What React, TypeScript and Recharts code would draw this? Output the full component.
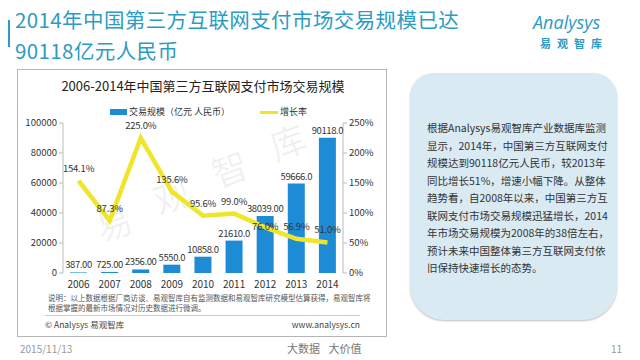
import { ComposedChart, Bar, Line, XAxis, YAxis, LabelList } from "recharts";

const years = ["2006", "2007", "2008", "2009", "2010", "2011", "2012", "2013", "2014"];
const volume = [387, 725, 2356, 5550, 10858, 21610, 38039, 59666, 90118];
const volumeLabels = ["387.00", "725.00", "2356.00", "5550.0", "10858.0", "21610.0", "38039.00", "59666.0", "90118.0"];
const growth = [154.1, 87.3, 225.0, 135.6, 95.6, 99.0, 76.0, 56.9, 51.0];
const leftTicks = [0, 20000, 40000, 60000, 80000, 100000];
const rightTicks = [0, 50, 100, 150, 200, 250];

const noteLines = [
  "根据Analysys易观智库产业数据库监测",
  "显示，2014年，中国第三方互联网支付",
  "规模达到90118亿元人民币，较2013年",
  "同比增长51%，增速小幅下降。从整体",
  "趋势看，自2008年以来，中国第三方互",
  "联网支付市场交易规模迅猛增长，2014",
  "年市场交易规模为2008年的38倍左右，",
  "预计未来中国整体第三方互联网支付依",
  "旧保持快速增长的态势。",
];

const data = years.map((year, i) => ({
  year,
  volume: volume[i],
  volumeLabel: volumeLabels[i],
  growth: growth[i],
}));

const FONT = '"Noto Sans CJK SC", "Noto Sans", sans-serif';
const TEAL = "#2b9cc3";
const BLUE = "#1e8cd5";
const YELLOW = "#efe52c";

// growth labels sit above the point, except 2012 which sits on the line (clear of the bar label)
const renderGrowthLabel = (props: any) => {
  const { x, y, value, index } = props;
  const dy = index === 6 ? 3 : -9;
  return (
    <text x={x} y={y + dy} textAnchor="middle" style={{ fontSize: 9.5, letterSpacing: -0.2, fill: "#333", fontFamily: FONT }}>
      {`${Number(value).toFixed(1)}%`}
    </text>
  );
};

export default function App() {
  return (
    <div
      style={{
        position: "absolute",
        left: 0,
        top: 0,
        width: 640,
        height: 360,
        background: "#fff",
        overflow: "hidden",
        fontFamily: FONT,
      }}
    >
      {/* page title */}
      <div style={{ position: "absolute", left: 8, top: 20, width: 2, height: 27, background: TEAL }} />
      <div style={{ position: "absolute", left: 15, top: 7, fontSize: 20.5, letterSpacing: 0.4, lineHeight: "24px", color: TEAL, whiteSpace: "nowrap" }}>
        2014年中国第三方互联网支付市场交易规模已达
      </div>
      <div style={{ position: "absolute", left: 15, top: 38, fontSize: 20.5, letterSpacing: 0.4, lineHeight: "24px", color: TEAL, whiteSpace: "nowrap" }}>
        90118亿元人民币
      </div>

      {/* logo */}
      <div style={{ position: "absolute", left: 533, top: 10, color: TEAL, fontStyle: "italic", fontSize: 18, fontFamily: '"Open Sans", sans-serif' }}>
        Analysys
      </div>
      <div style={{ position: "absolute", left: 540, top: 35, color: TEAL, fontWeight: 700, fontSize: 11, letterSpacing: 6 }}>
        易观智库
      </div>

      {/* chart box */}
      <div
        style={{
          position: "absolute",
          left: 17,
          top: 69,
          width: 368,
          height: 266,
          border: "1px solid #b5b5b5",
        }}
      />
      <div style={{ position: "absolute", left: 17, width: 372, top: 76, textAlign: "center", fontSize: 13, color: "#222" }}>
        2006-2014年中国第三方互联网支付市场交易规模
      </div>

      {/* watermark */}
      {["易", "观", "智", "库"].map((ch, i) => (
        <div
          key={ch}
          style={{
            position: "absolute",
            left: 95 + i * 58,
            top: 195 - i * 27,
            fontSize: 36,
            color: "rgba(0,0,0,0.06)",
            transform: "rotate(-20deg)",
          }}
        >
          {ch}
        </div>
      ))}

      {/* legend */}
      <div style={{ position: "absolute", left: 110, top: 109, width: 17, height: 6, background: BLUE }} />
      <div style={{ position: "absolute", left: 129, top: 105, fontSize: 9, color: "#333" }}>交易规模（亿元 人民币）</div>
      <div style={{ position: "absolute", left: 260, top: 111, width: 18, height: 3, background: YELLOW }} />
      <div style={{ position: "absolute", left: 280, top: 105, fontSize: 9, color: "#333" }}>增长率</div>

      <div style={{ position: "absolute", left: 17, top: 95 }}>
        <ComposedChart width={369} height={200} data={data} margin={{ top: 28, right: 0, left: 0, bottom: 2 }}>
          <XAxis
            dataKey="year"
            axisLine={false}
            tickLine={false}
            height={20}
            tick={{ fontSize: 10, fill: "#333", fontFamily: FONT }}
          />
          <YAxis
            yAxisId="left"
            width={46}
            domain={[0, 100000]}
            ticks={leftTicks}
            axisLine={{ stroke: "#bbb" }}
            tickLine={{ stroke: "#bbb" }}
            tickSize={4}
            tick={{ fontSize: 9.5, fill: "#333", fontFamily: FONT }}
          />
          <YAxis
            yAxisId="right"
            orientation="right"
            width={43}
            domain={[0, 250]}
            ticks={rightTicks}
            tickFormatter={(v: number) => `${v}%`}
            axisLine={{ stroke: "#bbb" }}
            tickLine={{ stroke: "#bbb" }}
            tickSize={4}
            tick={{ fontSize: 9.5, fill: "#333", fontFamily: FONT }}
          />
          <Bar yAxisId="left" dataKey="volume" fill={BLUE} barSize={17} isAnimationActive={false}>
            <LabelList
              dataKey="volumeLabel"
              position="top"
              offset={4}
              style={{ fontSize: 9.5, letterSpacing: -0.4, fill: "#333", fontFamily: FONT }}
            />
          </Bar>
          <Line
            yAxisId="right"
            type="linear"
            dataKey="growth"
            stroke={YELLOW}
            strokeWidth={4.5}
            dot={false}
            isAnimationActive={false}
          >
            <LabelList dataKey="growth" content={renderGrowthLabel} />
          </Line>
        </ComposedChart>
      </div>

      {/* source note */}
      <div style={{ position: "absolute", left: 48, top: 293, fontSize: 7.5, lineHeight: "10px", color: "#555", whiteSpace: "nowrap" }}>
        <div>说明：以上数据根据厂商访谈、易观智库自有监测数据和易观智库研究模型估算获得，易观智库将</div>
        <div>根据掌握的最新市场情况对历史数据进行微调。</div>
      </div>
      <div style={{ position: "absolute", left: 45, top: 315, width: 315, height: 1, background: "#ccc" }} />
      <div style={{ position: "absolute", left: 45, top: 318, fontSize: 8.5, color: "#444" }}>© Analysys 易观智库</div>
      <div style={{ position: "absolute", left: 260, width: 100, textAlign: "right", top: 318, fontSize: 8.5, color: "#444" }}>
        www.analysys.cn
      </div>

      {/* text panel */}
      <div
        style={{
          position: "absolute",
          left: 410,
          top: 73,
          width: 207,
          height: 247,
          background: "#d9eaf3",
          borderRadius: "24px 24px 34px 34px",
          boxShadow: "0 1px 2px rgba(0,0,0,0.25)",
        }}
      />
      <div style={{ position: "absolute", left: 427, top: 119, fontSize: 10.5, lineHeight: "17.5px", color: "#333", whiteSpace: "nowrap" }}>
        {noteLines.map((t) => (
          <div key={t}>{t}</div>
        ))}
      </div>

      {/* footer */}
      <div style={{ position: "absolute", left: 20, top: 341, fontSize: 10, color: "#999" }}>2015/11/13</div>
      <div style={{ position: "absolute", left: 287, top: 340, fontSize: 11, color: "#777", wordSpacing: 6 }}>大数据 大价值</div>
      <div style={{ position: "absolute", left: 611, top: 341, fontSize: 10, color: "#999" }}>11</div>
    </div>
  );
}
